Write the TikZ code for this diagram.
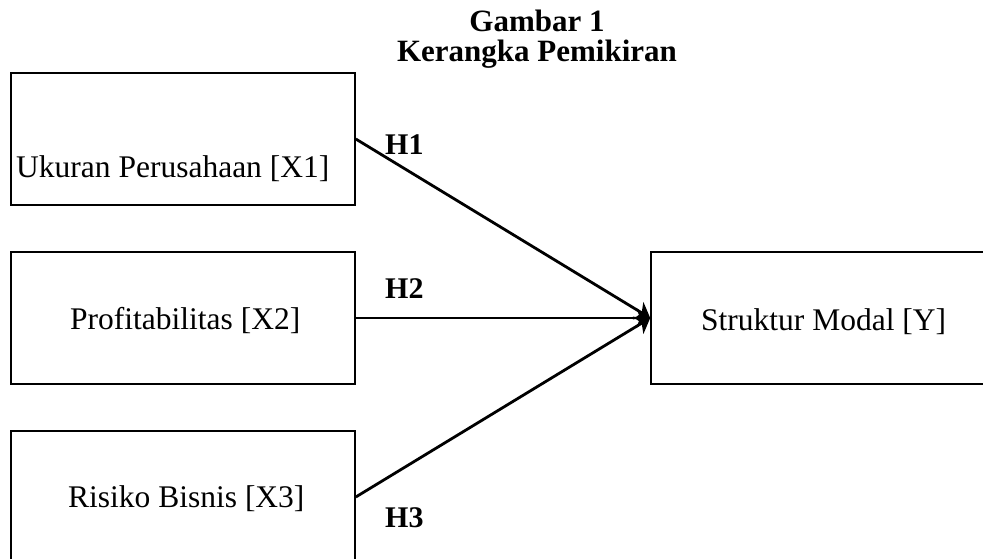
\documentclass[tikz,border=0pt]{standalone}
\usepackage{fontspec}
\setmainfont{Liberation Serif}
\usetikzlibrary{arrows.meta,positioning}
\tikzset{
  vbox/.style={draw=black,line width=1.6pt,minimum width=344pt,minimum height=132pt,inner sep=0pt}, % variable box
  vtext/.style={font=\fontsize{31.5}{36}\selectfont,inner sep=0pt,anchor=base west},
  hyp/.style={font=\fontsize{30}{34}\bfseries\selectfont,inner sep=0pt,anchor=base west},
  ttl/.style={font=\fontsize{31}{36}\bfseries\selectfont,inner sep=0pt,anchor=base},
  link/.style={-{Stealth[length=14pt,width=20pt,inset=4pt]},line width=2.8pt},
}

\begin{document}
\begin{tikzpicture}[x=1pt,y=-1pt]
  \useasboundingbox (0,0) rectangle (983,559);
  \clip (0,0) rectangle (983,559);
  % title
  \node[ttl] (t1) at (537,32) {Gambar 1};
  \node[ttl] (t2) at (537,62) {Kerangka Pemikiran};
  % variables
  \node[vbox] (x1) at (183,139) {};
  \node[vbox] (x2) at (183,318) {};
  \node[vbox] (x3) at (183,497) {};
  \node[vbox] (y) at (823,318) {};
  \node[vtext] (lx1) at (16,178) {Ukuran Perusahaan [X1]};
  \node[vtext] (lx2) at (70,329) {Profitabilitas [X2]};
  \node[vtext] (lx3) at (68,507) {Risiko Bisnis [X3]};
  \node[vtext] (ly) at (701,330) {Struktur Modal [Y]};
  % hypotheses
  \foreach \i in {1,2,3} \draw[link] (x\i.east) -- (y.west);
  \node[hyp] (h1) at (385,155) {H1};
  \node[hyp] (h2) at (385,298) {H2};
  \node[hyp] (h3) at (385,527) {H3};
\end{tikzpicture}
\end{document}
